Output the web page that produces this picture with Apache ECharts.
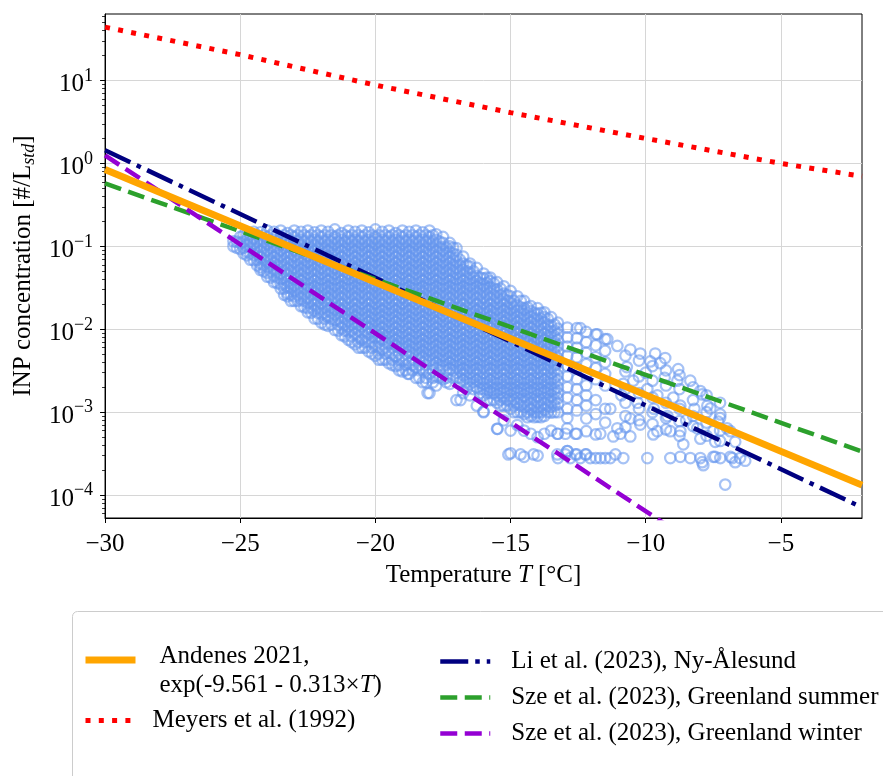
<!DOCTYPE html>
<html><head><meta charset="utf-8">
<script src="https://cdn.jsdelivr.net/npm/echarts@6/dist/echarts.min.js"></script>
<style>html,body{margin:0;padding:0;background:#fff}#c{width:883px;height:776px}</style>
</head><body><div id="c"></div><script>
const FONT = '"Liberation Serif","Times New Roman",serif';

// x / y tick values
const xTicks = [-30, -25, -20, -15, -10, -5];
const yMajor = [1e-4, 1e-3, 1e-2, 1e-1, 1, 10];

// fitted / literature curves: [T, INP]
const andenesLine = [[-30, 0.843], [-2, 1.32e-4]];
const meyersLine = [[-30, 44], [-25, 20.5], [-20, 8.8], [-15, 4.1], [-10, 2.0], [-5, 1.0], [-2, 0.70]];
const liLine = [[-30, 1.44], [-2, 7.1e-5]];
const szeSummerLine = [[-30, 0.574], [-2, 3.36e-4]];
const szeWinterLine = [[-30, 1.25], [-9, 3.9e-5]];

// observations, grouped by temperature column
const obsTemps = [-25.25,-25,-24.75,-24.5,-24.25,-24,-23.75,-23.5,-23.25,-23,-22.75,-22.5,-22.25,-22,-21.75,-21.5,-21.25,-21,-20.75,-20.5,-20.25,-20,-19.75,-19.5,-19.25,-19,-18.75,-18.5,-18.25,-18,-17.75,-17.5,-17.25,-17,-16.75,-16.5,-16.25,-16,-15.75,-15.5,-15.25,-15,-14.75,-14.5,-14.25,-14,-13.75,-13.5,-13.25,-12.9,-12.55,-12.2,-11.85,-11.5,-10.75,-10.25,-9.75,-9.25,-8.75,-8.25,-7.75,-7.25];
const obsConc = [
 [.115,.10],
 [.13,.11,.093],
 [.138,.12,.10,.086,.078],
 [.15,.13,.11,.093,.079,.068],
 [.148,.12,.10,.086,.073,.062,.056,.052],
 [.155,.13,.11,.093,.079,.067,.057,.048,.043],
 [.15,.12,.10,.086,.073,.062,.052,.044,.037],
 [.155,.13,.11,.093,.079,.067,.057,.048,.041,.035,.031],
 [.145,.12,.10,.086,.073,.062,.052,.044,.038,.032,.027,.025],
 [.155,.13,.11,.093,.079,.067,.057,.048,.041,.035,.030,.025,.022],
 [.15,.12,.10,.086,.073,.062,.052,.044,.038,.032,.027,.023,.019],
 [.155,.13,.11,.093,.079,.067,.057,.048,.041,.035,.030,.025,.021,.018,.016],
 [.148,.12,.10,.086,.073,.062,.052,.044,.038,.032,.027,.023,.0195,.0166,.0135],
 [.155,.13,.11,.093,.079,.067,.057,.048,.041,.035,.030,.025,.021,.018,.0153,.012],
 [.15,.12,.10,.086,.073,.062,.052,.044,.038,.032,.027,.023,.0195,.0166,.014,.011],
 [.16,.13,.11,.093,.079,.067,.057,.048,.041,.035,.030,.025,.021,.018,.0153,.013,.0098],
 [.145,.12,.10,.086,.073,.062,.052,.044,.038,.032,.027,.023,.0195,.0166,.014,.012,.0102,.0085],
 [.155,.13,.11,.093,.079,.067,.057,.048,.041,.035,.030,.025,.021,.018,.0153,.013,.011,.0094,.0075],
 [.15,.12,.10,.086,.073,.062,.052,.044,.038,.032,.027,.023,.0195,.0166,.014,.012,.0102,.0087,.0066],
 [.155,.13,.11,.093,.079,.067,.057,.048,.041,.035,.030,.025,.021,.018,.0153,.013,.011,.0094,.0075,.006],
 [.148,.12,.10,.086,.073,.062,.052,.044,.038,.032,.027,.023,.0195,.0166,.014,.012,.0102,.0087,.007,.0054],
 [.16,.13,.11,.093,.079,.067,.057,.048,.041,.035,.030,.025,.021,.018,.0153,.013,.011,.0094,.008,.0062,.0048],
 [.15,.12,.10,.086,.073,.062,.052,.044,.038,.032,.027,.023,.0195,.0166,.014,.012,.0102,.0087,.0074,.0058,.0043],
 [.155,.13,.11,.093,.079,.067,.057,.048,.041,.035,.030,.025,.021,.018,.0153,.013,.011,.0094,.008,.0068,.0052,.0039],
 [.145,.12,.10,.086,.073,.062,.052,.044,.038,.032,.027,.023,.0195,.0166,.014,.012,.0102,.0087,.0074,.0063,.0047,.0036],
 [.155,.13,.11,.093,.079,.067,.057,.048,.041,.035,.030,.025,.021,.018,.0153,.013,.011,.0094,.008,.0068,.0058,.0043,.0031],
 [.15,.12,.10,.086,.073,.062,.052,.044,.038,.032,.027,.023,.0195,.0166,.014,.012,.0102,.0087,.0074,.0063,.0053,.0039,.0029],
 [.155,.13,.11,.093,.079,.067,.057,.048,.041,.035,.030,.025,.021,.018,.0153,.013,.011,.0094,.008,.0068,.0058,.0049,.0035,.0026],
 [.148,.12,.10,.086,.073,.062,.052,.044,.038,.032,.027,.023,.0195,.0166,.014,.012,.0102,.0087,.0074,.0063,.0053,.0045,.0032,.0023],
 [.155,.13,.11,.093,.079,.067,.057,.048,.041,.035,.030,.025,.021,.018,.0153,.013,.011,.0094,.008,.0068,.0058,.0049,.0042,.0029,.0017],
 [.14,.12,.10,.086,.073,.062,.052,.044,.038,.032,.027,.023,.0195,.0166,.014,.012,.0102,.0087,.0074,.0063,.0053,.0045,.0039,.0027,.0021],
 [.13,.11,.093,.079,.067,.057,.048,.041,.035,.030,.025,.021,.018,.0153,.013,.011,.0094,.008,.0068,.0058,.0049,.0042,.0036,.0025],
 [.11,.10,.086,.073,.062,.052,.044,.038,.032,.027,.023,.0195,.0166,.014,.012,.0102,.0087,.0074,.0063,.0053,.0045,.0039,.0033,.0022],
 [.095,.079,.067,.057,.048,.041,.035,.030,.025,.021,.018,.0153,.013,.011,.0094,.008,.0068,.0058,.0049,.0042,.0036,.003,.0026,.0014],
 [.075,.062,.052,.044,.038,.032,.027,.023,.0195,.0166,.014,.012,.0102,.0087,.0074,.0063,.0053,.0045,.0039,.0033,.0028,.0024,.0017],
 [.062,.057,.048,.041,.035,.030,.025,.021,.018,.0153,.013,.011,.0094,.008,.0068,.0058,.0049,.0042,.0036,.003,.0026,.0022,.0016],
 [.055,.044,.038,.032,.027,.023,.0195,.0166,.014,.012,.0102,.0087,.0074,.0063,.0053,.0045,.0039,.0033,.0028,.0024,.002,.0012],
 [.047,.041,.035,.030,.025,.021,.018,.0153,.013,.011,.0094,.008,.0068,.0058,.0049,.0042,.0036,.003,.0026,.0022,.0019,.0016,.001],
 [.042,.038,.032,.027,.023,.0195,.0166,.014,.012,.0102,.0087,.0074,.0063,.0053,.0045,.0039,.0033,.0028,.0024,.002,.0017,.0014],
 [.037,.030,.025,.021,.018,.0153,.013,.011,.0094,.008,.0068,.0058,.0049,.0042,.0036,.003,.0026,.0022,.0019,.0016,.0013,.00063],
 [.033,.027,.023,.0195,.0166,.014,.012,.0102,.0087,.0074,.0063,.0053,.0045,.0039,.0033,.0028,.0024,.002,.0017,.00147,.0012,.0008],
 [.029,.025,.021,.018,.0153,.013,.011,.0094,.008,.0068,.0058,.0049,.0042,.0036,.003,.0026,.0022,.0019,.0016,.00136,.0011,.0006,.00032],
 [.025,.0195,.0166,.014,.012,.0102,.0087,.0074,.0063,.0053,.0045,.0039,.0033,.0028,.0024,.002,.0017,.00147,.00125,.001,.0007],
 [.022,.018,.0153,.013,.011,.0094,.008,.0068,.0058,.0049,.0042,.0036,.003,.0026,.0022,.0019,.0016,.00136,.00116,.00095,.0006,.00029],
 [.019,.0166,.014,.012,.0102,.0087,.0074,.0063,.0053,.0045,.0039,.0033,.0028,.0024,.002,.0017,.00147,.00125,.00107,.0009,.00055],
 [.018,.0153,.013,.011,.0094,.008,.0068,.0058,.0049,.0042,.0036,.003,.0026,.0022,.0019,.0016,.00136,.00116,.00099,.00088,.0005,.0003],
 [.016,.014,.012,.0102,.0087,.0074,.0063,.0053,.0045,.0039,.0033,.0028,.0024,.002,.0017,.00147,.00125,.00107,.0009,.00055],
 [.014,.011,.0094,.008,.0068,.0058,.0049,.0042,.0036,.003,.0026,.0022,.0019,.0016,.00136,.00116,.00099,.0006],
 [.012,.0102,.0087,.0074,.0063,.0053,.0045,.0039,.0033,.0028,.0024,.002,.0017,.00147,.00125,.001,.00055,.00028],
 [.0105,.008,.0062,.0048,.0036,.0027,.002,.0015,.0011,.00085,.00064,.00034],
 [.0103,.0078,.006,.0046,.0034,.0025,.0019,.0014,.00105,.00055,.00031],
 [.0093,.007,.0052,.0038,.0029,.0021,.0016,.0012,.00084,.00059,.00031],
 [.0087,.0064,.0046,.0034,.0025,.0014,.00095,.00054,.00028],
 [.0076,.0055,.004,.0029,.0021,.0011,.00075,.00028],
 [.0048,.0031,.0019,.0013,.0009,.00066],
 [.0042,.0027,.0017,.0011,.0008],
 [.0036,.0024,.0015,.001,.00072],
 [.0032,.0021,.0013,.00085,.00062],
 [.0028,.0019,.0011,.00078,.00052],
 [.002,.0014,.0009,.00068],
 [.0016,.001,.00075,.00052],
 [.0013,.00085,.0006,.00045]
];
// intermediate temperature columns of the dense core
const obsTemps2 = [-25.125,-24.875,-24.625,-24.375,-24.125,-23.875,-23.625,-23.375,-23.125,-22.875,-22.625,-22.375,-22.125,-21.875,-21.625,-21.375,-21.125,-20.875,-20.625,-20.375,-20.125,-19.875,-19.625,-19.375,-19.125,-18.875,-18.625,-18.375,-18.125,-17.875,-17.625,-17.375,-17.125,-16.875,-16.625,-16.375,-16.125,-15.875,-15.625,-15.375,-15.125,-14.875,-14.625,-14.375,-14.125,-13.875,-13.625,-13.375];
const obsConc2 = [
 [.114,.096],
 [.136,.114,.096,.082],
 [.136,.114,.096,.082,.069],
 [.136,.114,.096,.082,.069,.059],
 [.136,.114,.096,.082,.069,.059,.05],
 [.136,.114,.096,.082,.069,.059,.05,.042],
 [.136,.114,.096,.082,.069,.059,.05,.042,.036],
 [.136,.114,.096,.082,.069,.059,.05,.042,.036,.031,.026],
 [.136,.114,.096,.082,.069,.059,.05,.042,.036,.031,.026,.022],
 [.136,.114,.096,.082,.069,.059,.05,.042,.036,.031,.026,.022],
 [.136,.114,.096,.082,.069,.059,.05,.042,.036,.031,.026,.022,.0184],
 [.136,.114,.096,.082,.069,.059,.05,.042,.036,.031,.026,.022,.0184,.0158],
 [.136,.114,.096,.082,.069,.059,.05,.042,.036,.031,.026,.022,.0184,.0158,.0134],
 [.136,.114,.096,.082,.069,.059,.05,.042,.036,.031,.026,.022,.0184,.0158,.0134,.0114],
 [.136,.114,.096,.082,.069,.059,.05,.042,.036,.031,.026,.022,.0184,.0158,.0134,.0114],
 [.136,.114,.096,.082,.069,.059,.05,.042,.036,.031,.026,.022,.0184,.0158,.0134,.0114,.0096],
 [.136,.114,.096,.082,.069,.059,.05,.042,.036,.031,.026,.022,.0184,.0158,.0134,.0114,.0096,.0082],
 [.136,.114,.096,.082,.069,.059,.05,.042,.036,.031,.026,.022,.0184,.0158,.0134,.0114,.0096,.0082,.007],
 [.136,.114,.096,.082,.069,.059,.05,.042,.036,.031,.026,.022,.0184,.0158,.0134,.0114,.0096,.0082,.007,.006],
 [.136,.114,.096,.082,.069,.059,.05,.042,.036,.031,.026,.022,.0184,.0158,.0134,.0114,.0096,.0082,.007,.006],
 [.136,.114,.096,.082,.069,.059,.05,.042,.036,.031,.026,.022,.0184,.0158,.0134,.0114,.0096,.0082,.007,.006,.0051],
 [.136,.114,.096,.082,.069,.059,.05,.042,.036,.031,.026,.022,.0184,.0158,.0134,.0114,.0096,.0082,.007,.006,.0051,.0043],
 [.136,.114,.096,.082,.069,.059,.05,.042,.036,.031,.026,.022,.0184,.0158,.0134,.0114,.0096,.0082,.007,.006,.0051,.0043],
 [.136,.114,.096,.082,.069,.059,.05,.042,.036,.031,.026,.022,.0184,.0158,.0134,.0114,.0096,.0082,.007,.006,.0051,.0043,.0037],
 [.136,.114,.096,.082,.069,.059,.05,.042,.036,.031,.026,.022,.0184,.0158,.0134,.0114,.0096,.0082,.007,.006,.0051,.0043,.0037,.0032],
 [.136,.114,.096,.082,.069,.059,.05,.042,.036,.031,.026,.022,.0184,.0158,.0134,.0114,.0096,.0082,.007,.006,.0051,.0043,.0037,.0032],
 [.136,.114,.096,.082,.069,.059,.05,.042,.036,.031,.026,.022,.0184,.0158,.0134,.0114,.0096,.0082,.007,.006,.0051,.0043,.0037,.0032],
 [.136,.114,.096,.082,.069,.059,.05,.042,.036,.031,.026,.022,.0184,.0158,.0134,.0114,.0096,.0082,.007,.006,.0051,.0043,.0037,.0032,.0026],
 [.136,.114,.096,.082,.069,.059,.05,.042,.036,.031,.026,.022,.0184,.0158,.0134,.0114,.0096,.0082,.007,.006,.0051,.0043,.0037,.0032,.0026,.0023],
 [.136,.114,.096,.082,.069,.059,.05,.042,.036,.031,.026,.022,.0184,.0158,.0134,.0114,.0096,.0082,.007,.006,.0051,.0043,.0037,.0032,.0026,.0023],
 [.114,.096,.082,.069,.059,.05,.042,.036,.031,.026,.022,.0184,.0158,.0134,.0114,.0096,.0082,.007,.006,.0051,.0043,.0037,.0032,.0026],
 [.096,.082,.069,.059,.05,.042,.036,.031,.026,.022,.0184,.0158,.0134,.0114,.0096,.0082,.007,.006,.0051,.0043,.0037,.0032,.0026,.0023],
 [.096,.082,.069,.059,.05,.042,.036,.031,.026,.022,.0184,.0158,.0134,.0114,.0096,.0082,.007,.006,.0051,.0043,.0037,.0032,.0026],
 [.069,.059,.05,.042,.036,.031,.026,.022,.0184,.0158,.0134,.0114,.0096,.0082,.007,.006,.0051,.0043,.0037,.0032,.0026,.0023],
 [.059,.05,.042,.036,.031,.026,.022,.0184,.0158,.0134,.0114,.0096,.0082,.007,.006,.0051,.0043,.0037,.0032,.0026,.0023,.0019],
 [.05,.042,.036,.031,.026,.022,.0184,.0158,.0134,.0114,.0096,.0082,.007,.006,.0051,.0043,.0037,.0032,.0026,.0023,.0019],
 [.042,.036,.031,.026,.022,.0184,.0158,.0134,.0114,.0096,.0082,.007,.006,.0051,.0043,.0037,.0032,.0026,.0023,.0019,.0017],
 [.042,.036,.031,.026,.022,.0184,.0158,.0134,.0114,.0096,.0082,.007,.006,.0051,.0043,.0037,.0032,.0026,.0023,.0019,.0017,.0014],
 [.036,.031,.026,.022,.0184,.0158,.0134,.0114,.0096,.0082,.007,.006,.0051,.0043,.0037,.0032,.0026,.0023,.0019,.0017,.0014],
 [.031,.026,.022,.0184,.0158,.0134,.0114,.0096,.0082,.007,.006,.0051,.0043,.0037,.0032,.0026,.0023,.0019,.0017,.0014,.0012],
 [.026,.022,.0184,.0158,.0134,.0114,.0096,.0082,.007,.006,.0051,.0043,.0037,.0032,.0026,.0023,.0019,.0017,.0014,.0012],
 [.022,.0184,.0158,.0134,.0114,.0096,.0082,.007,.006,.0051,.0043,.0037,.0032,.0026,.0023,.0019,.0017,.0014,.0012,.001],
 [.022,.0184,.0158,.0134,.0114,.0096,.0082,.007,.006,.0051,.0043,.0037,.0032,.0026,.0023,.0019,.0017,.0014,.0012,.001],
 [.0184,.0158,.0134,.0114,.0096,.0082,.007,.006,.0051,.0043,.0037,.0032,.0026,.0023,.0019,.0017,.0014,.0012,.001,.00087],
 [.0158,.0134,.0114,.0096,.0082,.007,.006,.0051,.0043,.0037,.0032,.0026,.0023,.0019,.0017,.0014,.0012,.001,.00087],
 [.0158,.0134,.0114,.0096,.0082,.007,.006,.0051,.0043,.0037,.0032,.0026,.0023,.0019,.0017,.0014,.0012,.001,.00087],
 [.0134,.0114,.0096,.0082,.007,.006,.0051,.0043,.0037,.0032,.0026,.0023,.0019,.0017,.0014,.0012,.001],
 [.0114,.0096,.0082,.007,.006,.0051,.0043,.0037,.0032,.0026,.0023,.0019,.0017,.0014,.0012,.001]
];
// sparse warm-temperature tail and isolated points: [T, INP]
const obsTail = [
 [-12.42,.0103],[-11.79,.0087],[-11.42,.0076],[-11.05,.0063],[-10.57,.0057],[-10.2,.0051],[-9.83,.0041],[-9.46,.0039],
 [-8.83,.0024],[-8.35,.0024],[-7.98,.0018],[-7.72,.0012],[-9.65,.0051],[-9.28,.0045],[-8.8,.0033],
 [-10.83,.0022],[-10.46,.0024],[-9.94,.0019],[-9.57,.0016],[-8.98,.0015],[-8.72,.0012],[-11.31,.0011],[-10.57,.00084],
 [-10.2,.00071],[-9.57,.00059],[-8.72,.00059],[-8.09,.00064],[-11.05,.00064],[-11.2,.00051],[-10.57,.00051],[-9.72,.00054],
 [-9.09,.00059],[-8.61,.00041],[-7.98,.00048],[-7.5,.00059],[-6.99,.00064],
 [-11.31,.00028],[-10.83,.00028],[-9.94,.00028],[-9.09,.00028],[-8.72,.00029],[-8.35,.00028],[-7.98,.00028],[-7.5,.00029],
 [-7.24,.00028],[-6.8,.00028],[-7.87,.00023],[-11.12,.00031],[-10.94,.00055],
 [-7.91,.00164],[-7.61,.00111],[-7.24,.00094],[-7.32,.00077],[-6.87,.00059],[-7.43,.00044],[-6.69,.00044],[-7.91,.00025],
 [-7.43,.00029],[-6.87,.00029],[-6.69,.00025],[-7.06,.000134],[-6.51,.00028],[-6.32,.00026],
 [-10.7,.0035],[-10.0,.003],[-9.3,.0026],[-10.9,.0016],[-10.3,.0013],[-9.7,.0011],[-9.2,.0009],[-8.5,.0008],[-8.2,.0011],
 [-15.08,.00031],[-14.63,.00031],[-14.15,.00031],[-13.27,.00031],[-12.97,.00031],[-12.6,.00031],[-12.23,.00031],[-12.9,.00034],
 [-11.68,.00028],[-12.05,.00028],[-12.42,.00028],[-12.79,.00028],
 [-13.27,.00055],[-12.97,.00055],[-12.6,.00055],[-11.68,.00055],
 [-18.8,.0029],[-18.07,.0017],[-16.85,.0014],[-16.0,.00102],[-15.48,.00063]
];

const names = {
  andenes: 'Andenes 2021, exp(-9.561 - 0.313×T)',
  meyers: 'Meyers et al. (1992)',
  li: 'Li et al. (2023), Ny-Ålesund',
  szeS: 'Sze et al. (2023), Greenland summer',
  szeW: 'Sze et al. (2023), Greenland winter'
};

const scatterData = [];
obsTemps.forEach((t, i) => obsConc[i].forEach(v => scatterData.push([t, v])));
obsTemps2.forEach((t, i) => obsConc2[i].forEach(v => scatterData.push([t, v])));
obsTail.forEach(p => scatterData.push(p));

const Y_MIN = 5.3e-5, Y_MAX = 63.4;
const yMinor = [];
for (let e = -5; e <= 1; e++) for (let k = 2; k <= 9; k++) {
  const v = k * Math.pow(10, e);
  if (v > Y_MIN && v < Y_MAX) yMinor.push(v);
}

const chart = echarts.init(document.getElementById('c'), null, {renderer: 'canvas'});
const txt = {fontFamily: FONT, color: '#000', fontSize: 25};

chart.setOption({
  animation: false,
  backgroundColor: '#fff',
  grid: {left: 104, right: 21, top: 14, bottom: 258, show: true, borderColor: '#000', borderWidth: 1, backgroundColor: 'transparent'},
  graphic: [{type: 'rect', z: 0, shape: {x: 72.5, y: 611.5, width: 900, height: 300, r: 5},
    style: {fill: '#fff', stroke: '#cccccc', lineWidth: 1}}],
  xAxis: {
    type: 'value', min: -30, max: -2,
    axisLine: {show: true, lineStyle: {color: '#000', width: 1}},
    axisTick: {show: true, length: 5, lineStyle: {color: '#000', width: 1}, customValues: xTicks},
    axisLabel: Object.assign({customValues: xTicks, margin: 14, formatter: v => String(v).replace('-', '\u2212')}, txt),
    splitLine: {show: true, lineStyle: {color: '#d6d6d6', width: 1}},
    name: 'Temperature {i|T} [°C]', nameLocation: 'middle', nameGap: 45,
    nameTextStyle: Object.assign({rich: {i: Object.assign({fontStyle: 'italic'}, txt)}}, txt)
  },
  yAxis: [{
    type: 'log', logBase: 10, min: Y_MIN, max: Y_MAX,
    axisLine: {show: true, lineStyle: {color: '#000', width: 1}},
    axisTick: {show: true, length: 5, lineStyle: {color: '#000', width: 1}, customValues: yMajor},
    axisLabel: {customValues: yMajor, margin: 12, padding: [7, 0, 0, 0],
      formatter: v => { const e = Math.round(Math.log10(v)); return '{b|10}{s|' + (e < 0 ? '\u2212' + (-e) : e) + '}'; },
      rich: {
        b: {fontFamily: FONT, fontSize: 25, color: '#000', lineHeight: 26, verticalAlign: 'bottom'},
        s: {fontFamily: FONT, fontSize: 18, color: '#000', lineHeight: 18, verticalAlign: 'bottom', padding: [0, 0, 12, 0]}
      }},
    splitLine: {show: true, lineStyle: {color: '#d6d6d6', width: 1}},
    name: 'INP concentration [#/L{sub|std}]', nameLocation: 'middle', nameGap: 66,
    nameTextStyle: Object.assign({lineHeight: 30, rich: {
      sub: {fontFamily: FONT, fontStyle: 'italic', fontSize: 18, color: '#000', lineHeight: 18, verticalAlign: 'bottom'}
    }}, txt)
  }, {
    type: 'log', logBase: 10, min: Y_MIN, max: Y_MAX, position: 'left',
    axisLine: {show: false}, axisLabel: {show: false}, splitLine: {show: false},
    axisTick: {show: true, length: 3, lineStyle: {color: '#000', width: 0.8}, customValues: yMinor}
  }],
  legend: [{
    left: 82, top: 620, orient: 'vertical', padding: 0, itemWidth: 50, itemHeight: 14, itemGap: 6,
    itemStyle: {opacity: 0}, lineStyle: {width: 'inherit'},
    data: [{name: names.andenes, textStyle: {padding: [22, 0, 0, 19]}}, {name: names.meyers, textStyle: {padding: [0, 0, 0, 12]}}],
    formatter: n => n === names.andenes ? 'Andenes 2021,\nexp(-9.561 - 0.313×{i|T})' : n,
    textStyle: Object.assign({lineHeight: 29, rich: {i: Object.assign({fontStyle: 'italic', lineHeight: 29}, txt)}}, txt)
  }, {
    left: 438, top: 647, orient: 'vertical', padding: 0, itemWidth: 50, itemHeight: 14, itemGap: 7,
    itemStyle: {opacity: 0}, lineStyle: {width: 'inherit'},
    data: [names.li, names.szeS, names.szeW],
    textStyle: Object.assign({lineHeight: 29, padding: [0, 0, 0, 16]}, txt)
  }],
  series: [
    {type: 'scatter', name: 'obs', data: scatterData, symbol: 'circle', symbolSize: 10.5, z: 1, large: false,
     itemStyle: {color: 'rgba(0,0,0,0)', borderColor: 'rgba(100,149,237,0.72)', borderWidth: 2.2}},
    {type: 'line', name: names.andenes, data: andenesLine, symbol: 'none', z: 6,
     lineStyle: {color: '#FFA500', width: 7, type: 'solid'}, itemStyle: {color: '#FFA500'}},
    {type: 'line', name: names.meyers, data: meyersLine, symbol: 'none', z: 3,
     lineStyle: {color: '#FF0000', width: 5, type: [5, 8.3]}, itemStyle: {color: '#FF0000'}},
    {type: 'line', name: names.li, data: liLine, symbol: 'none', z: 3,
     lineStyle: {color: '#000080', width: 4.5, type: [28, 7, 4.5, 7]}, itemStyle: {color: '#000080'}},
    {type: 'line', name: names.szeS, data: szeSummerLine, symbol: 'none', z: 3,
     lineStyle: {color: '#2CA02C', width: 4.5, type: [17, 7.5]}, itemStyle: {color: '#2CA02C'}},
    {type: 'line', name: names.szeW, data: szeWinterLine, symbol: 'none', z: 3,
     lineStyle: {color: '#9400D3', width: 4.5, type: [17, 7.5]}, itemStyle: {color: '#9400D3'}}
  ]
});
</script></body></html>
